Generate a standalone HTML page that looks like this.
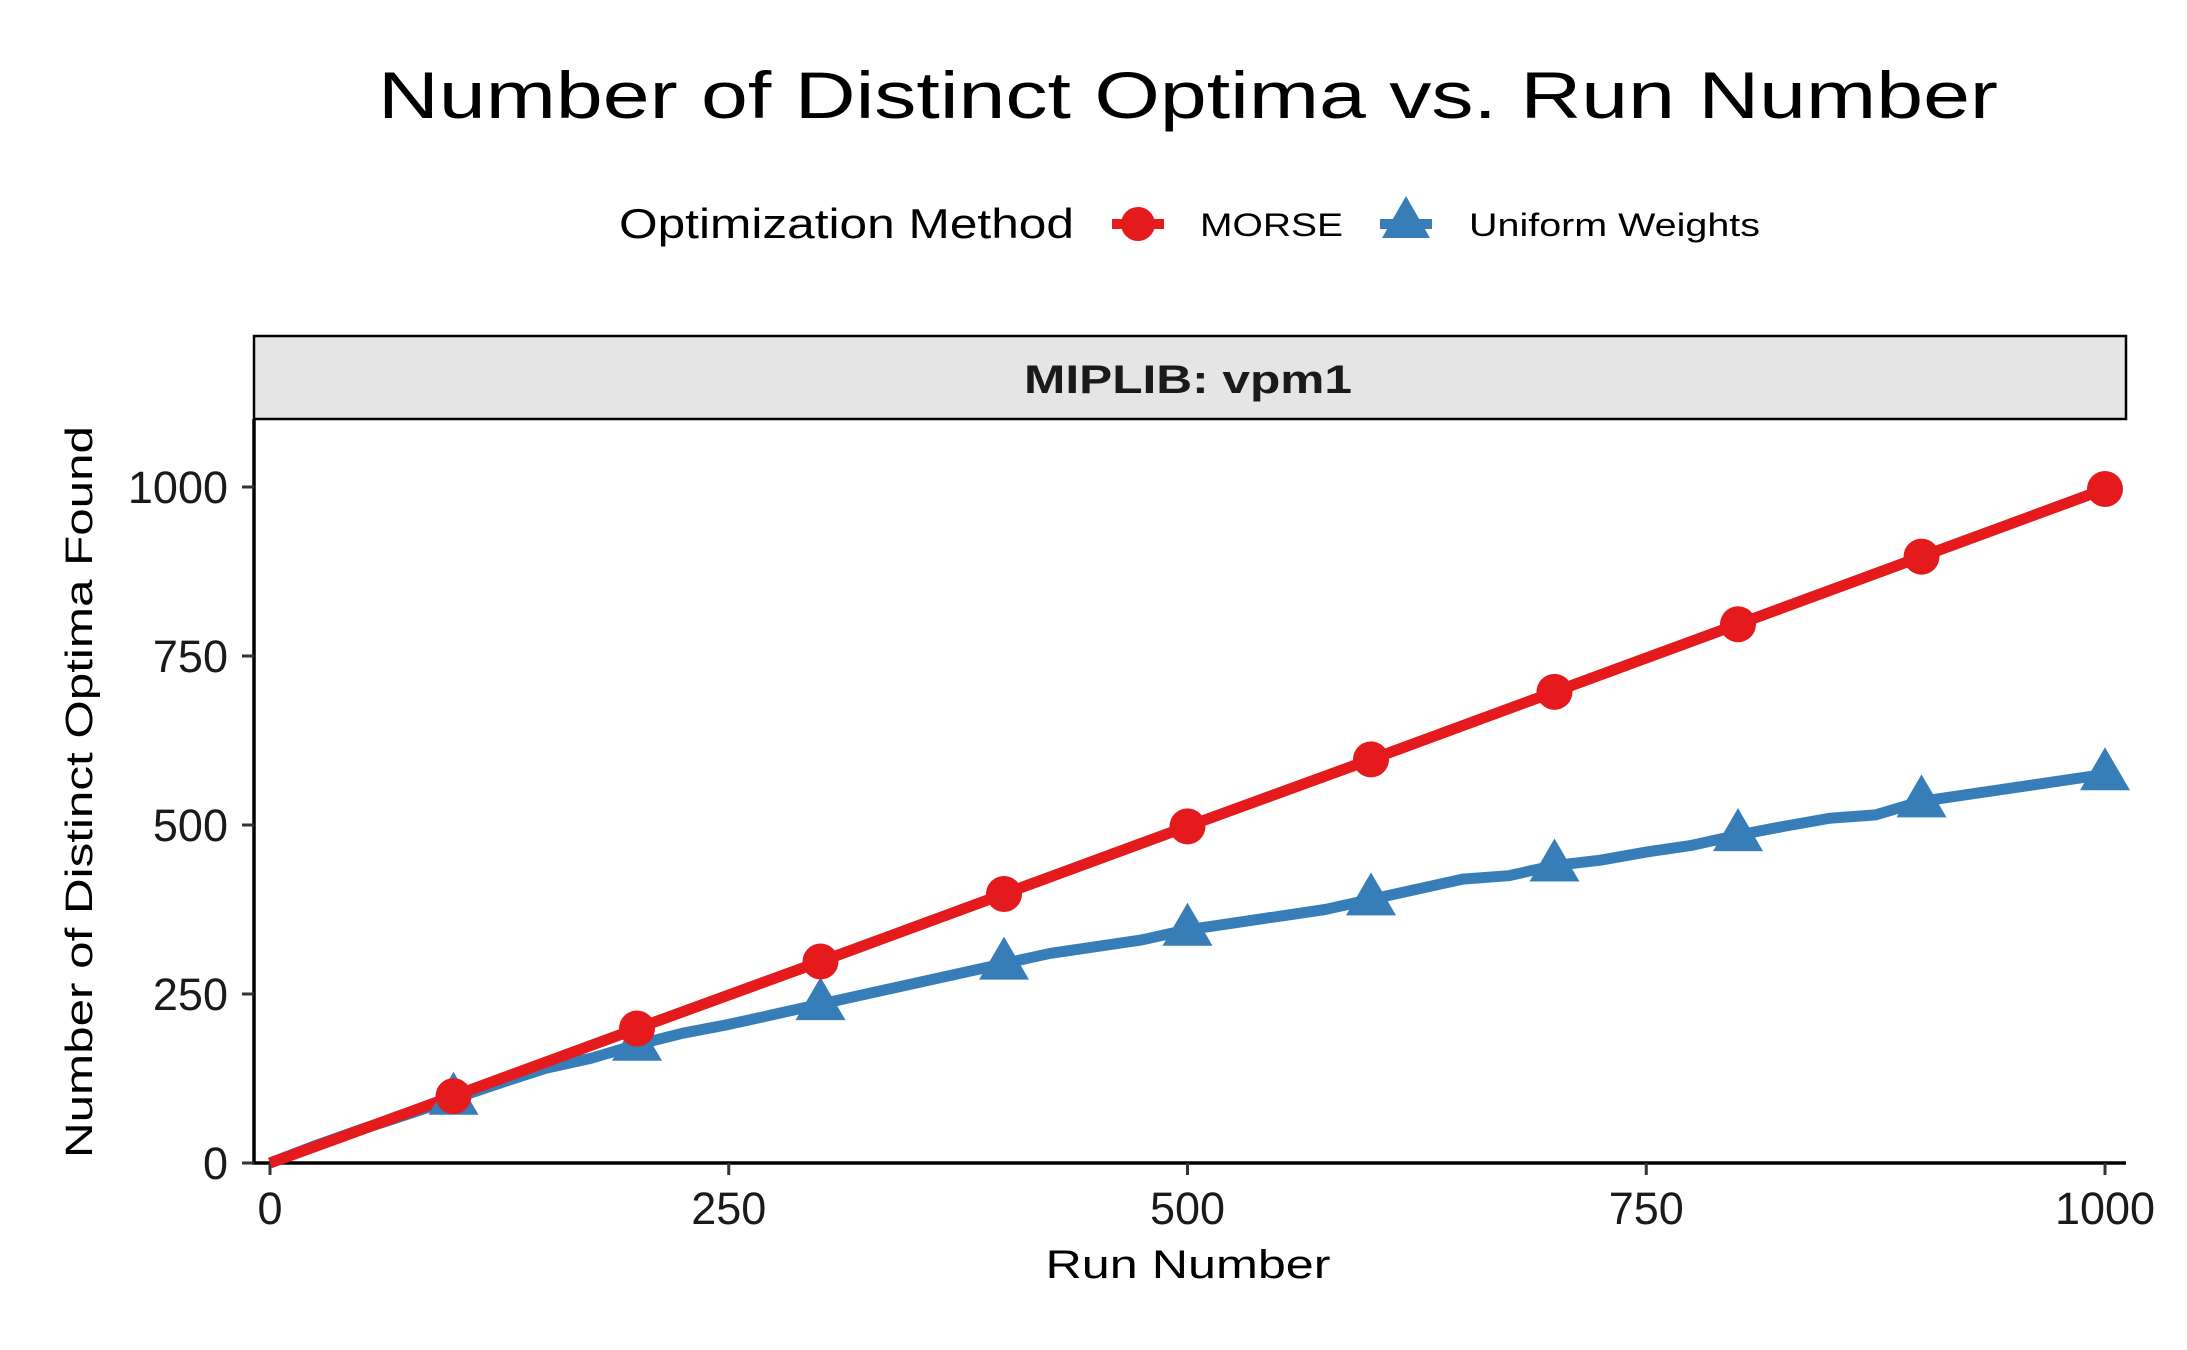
<!DOCTYPE html>
<html><head><meta charset="utf-8"><style>
html,body{margin:0;padding:0;background:#fff}
svg{display:block;font-family:"Liberation Sans",sans-serif}
</style></head><body>
<svg id="chart" width="2187" height="1350" viewBox="0 0 2187 1350">
<text x="1188" y="118" font-size="66" text-anchor="middle" textLength="1620" lengthAdjust="spacingAndGlyphs">Number of Distinct Optima vs. Run Number</text>
<g>
<text x="619" y="238" font-size="42" textLength="455" lengthAdjust="spacingAndGlyphs">Optimization Method</text>
<g>
<line x1="1112" y1="224" x2="1164" y2="224" stroke="#E41A1C" stroke-width="10"/>
<circle cx="1138" cy="224" r="17" fill="#E41A1C"/>
<text x="1200" y="236" font-size="32" textLength="143" lengthAdjust="spacingAndGlyphs">MORSE</text>
</g>
<g>
<line x1="1380" y1="224" x2="1432" y2="224" stroke="#377EB8" stroke-width="10"/>
<polygon points="1406,196 1430,238 1382,238" fill="#377EB8"/>
<text x="1469" y="236" font-size="32" textLength="291" lengthAdjust="spacingAndGlyphs">Uniform Weights</text>
</g>
</g>
<g>
<rect x="254" y="336" width="1872" height="83" fill="#E5E5E5" stroke="#000" stroke-width="2.5"/>
<text x="1188" y="393" font-size="40" font-weight="bold" text-anchor="middle" fill="#1a1a1a" textLength="328" lengthAdjust="spacingAndGlyphs">MIPLIB: vpm1</text>
</g>
<g id="axes"></g>
<g id="plot"></g>
<text transform="translate(92,792) rotate(-90)" font-size="38" text-anchor="middle" textLength="732" lengthAdjust="spacingAndGlyphs">Number of Distinct Optima Found</text>
<text x="1188" y="1278" font-size="40" text-anchor="middle" textLength="285" lengthAdjust="spacingAndGlyphs">Run Number</text>
</svg>
<script>
const xTicks = [0, 250, 500, 750, 1000];
const yTicks = [0, 250, 500, 750, 1000];
const markerRuns = [100, 200, 300, 400, 500, 600, 700, 800, 900, 1000];
const morseValues = [99, 199, 298, 398, 498, 597, 697, 797, 897, 997];
const uniformRuns = [0, 25, 50, 75, 100, 125, 150, 175, 200, 225, 250, 275, 300, 325, 350, 375, 400, 425, 450, 475, 500, 525, 550, 575, 600, 625, 650, 675, 700, 725, 750, 775, 800, 825, 850, 875, 900, 925, 950, 975, 1000];
const uniformValues = [0, 26, 50, 72, 95, 118, 140, 155, 175, 192, 205, 220, 235, 250, 265, 280, 295, 310, 320, 330, 345, 355, 365, 375, 390, 405, 420, 425, 440, 448, 460, 470, 485, 498, 510, 515, 535, 545, 555, 565, 575];

const NS = 'http://www.w3.org/2000/svg';
const X0 = 270, X1 = 2105, Y0 = 1163, Y1 = 487;
const xs = v => X0 + (X1 - X0) * v / 1000;
const ys = v => Y0 - (Y0 - Y1) * v / 1000;
function mk(tag, attrs, parent) {
  const e = document.createElementNS(NS, tag);
  for (const k in attrs) e.setAttribute(k, attrs[k]);
  parent.appendChild(e);
  return e;
}
const axes = document.getElementById('axes');
const plot = document.getElementById('plot');

const yAxis = mk('line', {x1: 254, y1: 419, x2: 254, y2: 1164, stroke: '#000', 'stroke-width': 3.5}, axes);


const xAxis = mk('line', {x1: 252, y1: 1163, x2: 2126, y2: 1163, stroke: '#000', 'stroke-width': 3.5}, axes);



yTicks.forEach(v => {
  const t = mk('line', {x1: 242, y1: ys(v), x2: 254, y2: ys(v), stroke: '#333', 'stroke-width': 3}, axes);
  
  
  const l = mk('text', {x: 228, y: ys(v) + 16, 'font-size': 45, 'text-anchor': 'end', fill: '#1a1a1a'}, axes);
  l.textContent = v;
  
  
});
xTicks.forEach(v => {
  const t = mk('line', {x1: xs(v), y1: 1163, x2: xs(v), y2: 1175, stroke: '#333', 'stroke-width': 3}, axes);
  
  
  const l = mk('text', {x: xs(v), y: 1224, 'font-size': 45, 'text-anchor': 'middle', fill: '#1a1a1a'}, axes);
  l.textContent = v;
  
  
});

const up = uniformRuns.map((r, i) => xs(r) + ',' + ys(uniformValues[i])).join(' ');
const ul = mk('polyline', {points: up, fill: 'none', stroke: '#377EB8', 'stroke-width': 11, 'stroke-linejoin': 'round'}, plot);


const mp = [xs(0) + ',' + ys(0)].concat(markerRuns.map((r, i) => xs(r) + ',' + ys(morseValues[i]))).join(' ');
const ml = mk('polyline', {points: mp, fill: 'none', stroke: '#E41A1C', 'stroke-width': 11, 'stroke-linejoin': 'round'}, plot);



markerRuns.forEach(r => {
  const idx = uniformRuns.indexOf(r);
  const cx = xs(r), cy = ys(uniformValues[idx]);
  const tri = mk('polygon', {points: `${cx},${cy - 27} ${cx + 25},${cy + 16} ${cx - 25},${cy + 16}`, fill: '#377EB8'}, plot);
  
  
});
markerRuns.forEach((r, i) => {
  const c = mk('circle', {cx: xs(r), cy: ys(morseValues[i]), r: 18, fill: '#E41A1C'}, plot);
  
  
});
</script>
</body></html>
